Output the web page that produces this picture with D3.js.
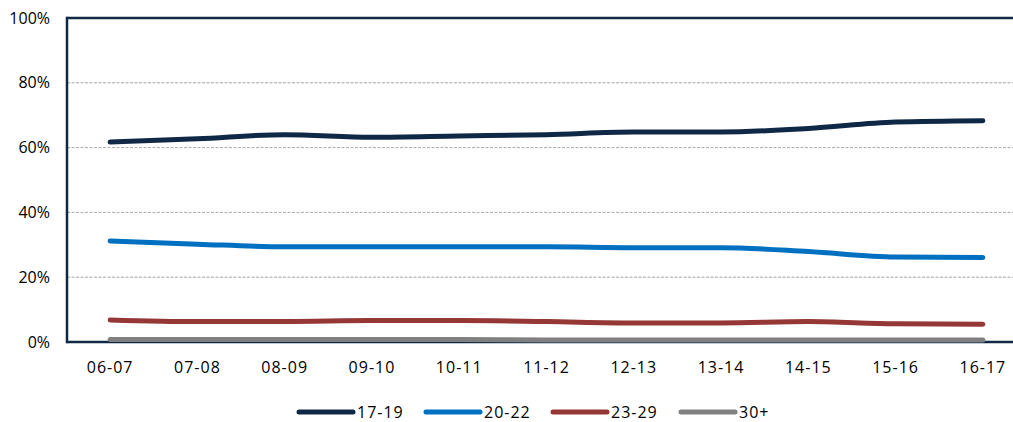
<!DOCTYPE html>
<html><head><meta charset="utf-8">
<script src="https://cdn.jsdelivr.net/npm/d3@7"></script>
<style>
html,body{margin:0;padding:0;background:#fff;}
svg{display:block;font-family:"Open Sans","Noto Sans",sans-serif;}
</style></head>
<body><svg id="c" width="1013" height="422"></svg>
<script>
const categories = ["06-07","07-08","08-09","09-10","10-11","11-12","12-13","13-14","14-15","15-16","16-17"];
const s17_19 = [61.7,62.7,64.0,63.2,63.6,64.0,64.8,64.8,65.9,67.9,68.3];
const s20_22 = [31.2,30.2,29.4,29.4,29.4,29.4,29.1,29.1,27.9,26.2,26.1];
const s23_29 = [6.8,6.3,6.3,6.6,6.6,6.3,5.9,5.9,6.3,5.6,5.5];
const s30p   = [0.8,0.8,0.8,0.8,0.8,0.6,0.6,0.6,0.6,0.6,0.6];
const seriesNames = ["17-19","20-22","23-29","30+"];
const yTicks = [0,20,40,60,80,100];
const colors = ["#0f2846","#0070c0","#953735","#808080"];
const seriesData = [s17_19,s20_22,s23_29,s30p];

const svg = d3.select("#c");
const plotLeft = 67, plotTop = 18, plotBottom = 342;
const x = d3.scaleBand().domain(categories).range([66.5, 1026.5]);
const y = d3.scaleLinear().domain([0,100]).range([plotBottom, plotTop]);

// grid
svg.append("g").selectAll("line").data(yTicks.filter(d=>d>0 && d<100)).join("line")
  .attr("x1", plotLeft).attr("x2", 1013).attr("y1", d=>y(d)).attr("y2", d=>y(d))
  .attr("stroke", "#a6a6a6").attr("stroke-width", 1).attr("stroke-dasharray", "3,1.5");

// frame
svg.append("line").attr("x1", plotLeft).attr("x2", 1013).attr("y1", y(100)).attr("y2", y(100))
  .attr("stroke", "#0f2846").attr("stroke-width", 2.5);
svg.append("line").attr("x1", plotLeft).attr("x2", 1013).attr("y1", y(0)).attr("y2", y(0))
  .attr("stroke", "#0f2846").attr("stroke-width", 2.5);
svg.append("line").attr("x1", plotLeft).attr("x2", plotLeft).attr("y1", y(100)-1.25).attr("y2", y(0)+1.25)
  .attr("stroke", "#0f2846").attr("stroke-width", 2.5);

// y labels
svg.append("g").selectAll("text").data(yTicks).join("text")
  .attr("x", 50).attr("y", d=>y(d)).attr("dy", "0.35em").attr("text-anchor", "end")
  .attr("font-size", 16).attr("fill", "#000").text(d=>d+"%");

// x labels
svg.append("g").selectAll("text").data(categories).join("text")
  .attr("x", d=>x(d)+x.bandwidth()/2).attr("y", 367).attr("dy", "0.35em").attr("text-anchor", "middle")
  .attr("font-size", 16).attr("letter-spacing", "1px").attr("fill", "#000").text(d=>d);

// lines
const line = d3.line().x((d,i)=>x(categories[i])+x.bandwidth()/2).y(d=>y(d)).curve(d3.curveMonotoneX);
seriesData.forEach((s,k)=>{
  svg.append("path").attr("d", line(s)).attr("fill","none").attr("stroke", colors[k])
    .attr("stroke-width", 5).attr("stroke-linecap","round").attr("stroke-linejoin","round");
});

// legend
const legX = [299, 426, 553, 681];
const lg = svg.append("g");
seriesNames.forEach((n,k)=>{
  lg.append("line").attr("x1", legX[k]).attr("x2", legX[k]+54).attr("y1", 412).attr("y2", 412)
    .attr("stroke", colors[k]).attr("stroke-width", 5).attr("stroke-linecap","round");
  lg.append("text").attr("x", legX[k]+58).attr("y", 412).attr("dy","0.35em")
    .attr("font-size", 16).attr("letter-spacing","1px").attr("fill","#000").text(n);
});
</script></body></html>
